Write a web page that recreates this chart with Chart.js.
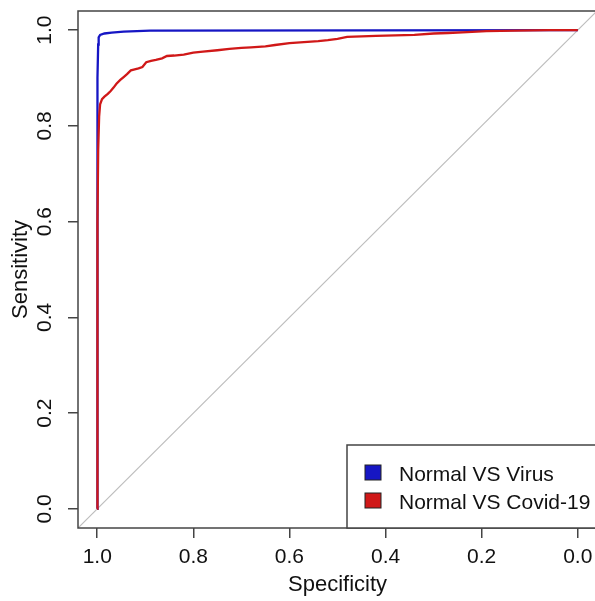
<!DOCTYPE html>
<html>
<head>
<meta charset="utf-8">
<script src="https://cdn.jsdelivr.net/npm/chart.js@4/dist/chart.umd.min.js"></script>
<style>
  html, body { margin: 0; padding: 0; background: #fff; overflow: hidden; }
  #wrap { position: relative; width: 597px; height: 601px; }
</style>
</head>
<body>
<div id="wrap"><canvas id="c"></canvas></div>
<script>
// ---- Data ----
const seriesLabels = ["Normal VS Virus", "Normal VS Covid-19"];
const seriesColors = ["#1616c4", "#d01818"];

const virusSpec = [1.000, 1.000, 0.999, 0.998, 0.997, 0.994, 0.985, 0.970, 0.945, 0.890, 0.000];
const virusSens = [0.000, 0.500, 0.900, 0.970, 0.985, 0.990, 0.993, 0.995, 0.997, 0.999, 1.000];

const covidSpec = [1.000, 1.000, 0.999, 0.998, 0.996, 0.994, 0.990, 0.985, 0.978, 0.972, 0.966, 0.960,
                   0.952, 0.945, 0.938, 0.930, 0.922, 0.914, 0.906, 0.898, 0.888, 0.878, 0.865, 0.855,
                   0.840, 0.820, 0.800, 0.780, 0.750, 0.725, 0.700, 0.680, 0.650, 0.630, 0.600, 0.570,
                   0.540, 0.520, 0.500, 0.480, 0.450, 0.420, 0.380, 0.340, 0.300, 0.270, 0.230, 0.190,
                   0.130, 0.060, 0.000];
const covidSens = [0.000, 0.300, 0.600, 0.750, 0.820, 0.845, 0.856, 0.861, 0.867, 0.873, 0.880, 0.888,
                   0.896, 0.902, 0.908, 0.916, 0.918, 0.920, 0.923, 0.933, 0.936, 0.938, 0.941, 0.946,
                   0.947, 0.949, 0.953, 0.955, 0.958, 0.961, 0.963, 0.964, 0.966, 0.969, 0.973, 0.975,
                   0.977, 0.979, 0.982, 0.986, 0.987, 0.988, 0.989, 0.990, 0.993, 0.994, 0.996, 0.998,
                   0.999, 1.000, 1.000];

// reference diagonal (chance line) endpoints in data space, spanning the extended plot region
const diagSpec = [1.04, -0.04];
const diagSens = [-0.04, 1.04];

const tickValues = [0, 0.2, 0.4, 0.6, 0.8, 1.0];
const axisMin = -0.04, axisMax = 1.04;
const xTitle = "Specificity";
const yTitle = "Sensitivity";

// ---- helpers ----
const zip = (xs, ys) => xs.map((x, i) => ({ x: x, y: ys[i] }));
const FONT = "'Liberation Sans', Arial, Helvetica, sans-serif";
const TXT = "#111";
const AX = "#444";

const yTickLabels = {
  id: 'yTickLabels',
  afterDraw(chart) {
    const ctx = chart.ctx, ys = chart.scales.y;
    ctx.save();
    ctx.font = "21px " + FONT;
    ctx.fillStyle = TXT;
    ctx.textAlign = 'center';
    ctx.textBaseline = 'middle';
    ys.ticks.forEach(t => {
      const py = ys.getPixelForValue(t.value);
      ctx.save();
      ctx.translate(45, py);
      ctx.rotate(-Math.PI / 2);
      ctx.fillText(t.value.toFixed(1), 0, 0);
      ctx.restore();
    });
    ctx.restore();
  }
};

const boxAndLegend = {
  id: 'boxAndLegend',
  afterDatasetsDraw(chart) {
    const ctx = chart.ctx, a = chart.chartArea;
    ctx.save();
    // plot box
    ctx.strokeStyle = AX;
    ctx.lineWidth = 1.5;
    ctx.strokeRect(a.left, a.top, a.right - a.left, a.bottom - a.top);
    // legend (bottom-right)
    const lw = 250, lh = 83;
    const lx = a.right - lw, ly = a.bottom - lh;
    ctx.fillStyle = '#fff';
    ctx.fillRect(lx, ly, lw, lh);
    ctx.strokeRect(lx, ly, lw, lh);
    ctx.font = "21px " + FONT;
    ctx.textAlign = 'left';
    ctx.textBaseline = 'alphabetic';
    seriesLabels.forEach((lab, i) => {
      const sy = ly + 20 + i * 28;
      ctx.fillStyle = seriesColors[i];
      ctx.fillRect(lx + 18, sy, 16, 15);
      ctx.strokeStyle = '#222';
      ctx.lineWidth = 1;
      ctx.strokeRect(lx + 18, sy, 16, 15);
      ctx.fillStyle = TXT;
      ctx.fillText(lab, lx + 52, sy + 16);
    });
    ctx.restore();
  }
};

const ticksFromArray = (scale) => {
  scale.ticks = tickValues.map(v => ({ value: v }));
};

new Chart(document.getElementById('c'), {
  type: 'line',
  data: {
    datasets: [
      {
        label: 'diagonal',
        data: zip(diagSpec, diagSens),
        borderColor: '#bdbdbd',
        borderWidth: 1.2,
        pointRadius: 0,
        fill: false,
        order: 3
      },
      {
        label: seriesLabels[0],
        data: zip(virusSpec, virusSens),
        borderColor: seriesColors[0],
        borderWidth: 2.3,
        pointRadius: 0,
        tension: 0,
        fill: false,
        order: 2
      },
      {
        label: seriesLabels[1],
        data: zip(covidSpec, covidSens),
        borderColor: seriesColors[1],
        borderWidth: 2.3,
        pointRadius: 0,
        tension: 0,
        fill: false,
        order: 1
      }
    ]
  },
  options: {
    responsive: true,
    maintainAspectRatio: false,
    animation: false,
    layout: { padding: { top: 11, left: 0, right: 0, bottom: 0 } },
    plugins: {
      legend: { display: false },
      tooltip: { enabled: false }
    },
    scales: {
      x: {
        type: 'linear',
        reverse: true,
        min: axisMin,
        max: axisMax,
        afterBuildTicks: ticksFromArray,
        afterFit: (s) => { s.height = 73; },
        grid: { drawOnChartArea: false, drawTicks: true, tickLength: 10, color: AX, lineWidth: 1.5 },
        border: { display: false },
        ticks: {
          color: TXT,
          font: { family: FONT, size: 21 },
          padding: 7,
          maxRotation: 0,
          minRotation: 0,
          callback: (v) => Number(v).toFixed(1)
        },
        title: {
          display: true,
          text: xTitle,
          color: TXT,
          font: { family: FONT, size: 22 },
          padding: { top: 0, bottom: 3 }
        }
      },
      y: {
        type: 'linear',
        min: axisMin,
        max: axisMax,
        afterBuildTicks: ticksFromArray,
        afterFit: (s) => { s.width = 78; },
        grid: { drawOnChartArea: false, drawTicks: true, tickLength: 10, color: AX, lineWidth: 1.5 },
        border: { display: false },
        ticks: { display: false },
        title: {
          display: true,
          text: yTitle,
          color: TXT,
          font: { family: FONT, size: 22 },
          padding: { top: 8, bottom: 0 }
        }
      }
    }
  },
  plugins: [yTickLabels, boxAndLegend]
});
</script>
</body>
</html>
